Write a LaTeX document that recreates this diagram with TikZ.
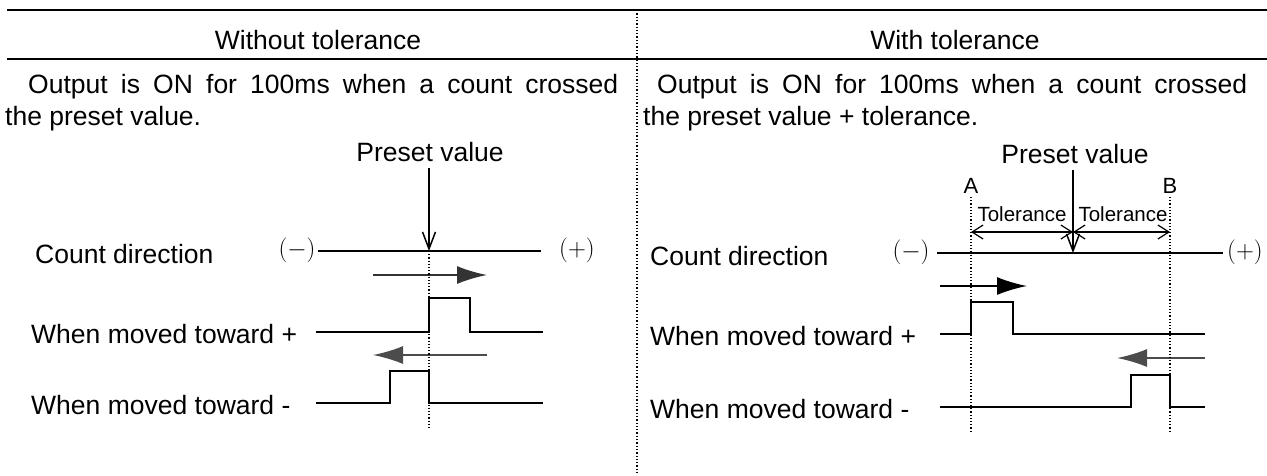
\documentclass[tikz,border=0pt]{standalone}
\usepackage{fontspec}
\setmainfont{Liberation Sans}
\usetikzlibrary{arrows.meta}
\begin{document}
\begin{tikzpicture}[x=1pt,y=-1pt,
  txt/.style={inner sep=0pt,font=\fontsize{26.5}{31}\selectfont},
  sign/.style={inner sep=0pt,font=\fontsize{28}{32}\selectfont},
  small/.style={inner sep=0pt,font=\fontsize{20.5}{24}\selectfont},
  letter/.style={inner sep=0pt,font=\fontsize{22}{26}\selectfont},
  rule/.style={line width=2.4pt},
  divider/.style={line width=1.3pt,dotted},
  guide/.style={line width=1.2pt,dotted},
  axis/.style={line width=1.8pt},
  pulse/.style={line width=1.8pt},
  presetarrow/.style={line width=1.8pt,-{Straight Barb[length=17pt,width=13pt,line width=1.5pt]}},
  tolarrow/.style={line width=1.2pt,{Straight Barb[length=11pt,width=14pt]}-{Straight Barb[length=11pt,width=14pt]}},
  moveplus/.style={line width=1.8pt,-{Latex[length=30pt,width=18pt]},color=black!80},
  moveminus/.style={line width=1.8pt,-{Latex[length=30pt,width=18pt]},color=black!70}]
\useasboundingbox (0,0) rectangle (1267,475);

% table frame
\coordinate (tl) at (7,10);   \coordinate (tr) at (1267,10);
\coordinate (hl) at (7,59);   \coordinate (hr) at (1267,59);
\coordinate (dtop) at (637,10); \coordinate (dbot) at (637,475);
\draw[rule] (tl) -- (tr);
\draw[rule] (hl) -- (hr);
\draw[divider] (dtop) -- (dbot);

% column headings
\node[txt] (hwo) at (318,40) {Without tolerance};
\node[txt] (hwi) at (955,40) {With tolerance};

% descriptions
\node[txt,anchor=west] (dl1) at (28,87) {\makebox[590pt][s]{Output is ON for 100ms when a count crossed}};
\node[txt,anchor=west] (dl2) at (5,119) {the preset value.};
\node[txt,anchor=west] (dr1) at (657,87) {\makebox[590pt][s]{Output is ON for 100ms when a count crossed}};
\node[txt,anchor=west] (dr2) at (643,119) {the preset value + tolerance.};

% ---------- left: without tolerance ----------
\node[txt] (pvl) at (430,152) {Preset value};
\coordinate (pl) at (429,251);
\draw[presetarrow] (pvl.south -| pl) ++(0,6) coordinate (pls) -- (pl);

\node[txt,anchor=west] (cdl) at (35,254) {Count direction};
\node[sign] (mnl) at (297,250) {$(-)$};
\node[sign] (psl) at (577,250) {$(+)$};
\coordinate (axl1) at (318,251); \coordinate (axl2) at (541,251);
\draw[axis] (axl1) -- (axl2);

% outputs
\node[txt,anchor=west] (wpl) at (31,334) {When moved toward +};
\node[txt,anchor=west] (wml) at (31,405) {When moved toward -};

\coordinate (ral) at (373,275); \coordinate (rar) at (487,275);
\draw[moveplus] (ral) -- (rar);
\draw[pulse] (316,332) coordinate (p1s) -- (429,332) -- (429,298) -- (470,298) -- (470,332) -- (543,332) coordinate (p1e);

\coordinate (lar) at (487,355); \coordinate (lal) at (373,355);
\draw[moveminus] (lar) -- (lal);
\draw[pulse] (316,403) coordinate (p2s) -- (390,403) -- (390,371) -- (429,371) -- (429,403) -- (543,403) coordinate (p2e);

\coordinate (gle) at (429,428);
\draw[guide] (pl) -- (gle);

% ---------- right: with tolerance ----------
\node[txt] (pvr) at (1075,154) {Preset value};
\node[letter] (la) at (971,186) {A};
\node[letter] (lb) at (1170,186) {B};
\coordinate (pr) at (1073,253);
\draw[presetarrow] (pvr.south -| pr) ++(0,6) coordinate (prs) -- (pr);

\node[txt,anchor=west] (cdr) at (650,256) {Count direction};
\node[sign] (mnr) at (911,252) {$(-)$};
\node[sign] (psr) at (1245,252) {$(+)$};
\coordinate (axr1) at (937,253); \coordinate (axr2) at (1223,253);
\draw[axis] (axr1) -- (axr2);

% tolerance band
\coordinate (ta) at (971,232); \coordinate (tm) at (1073,232); \coordinate (tb) at (1170,232);
\draw[tolarrow] (ta) -- (tm);
\draw[tolarrow] (tm) -- (tb);
\node[small] (tol1) at (1022,214) {Tolerance};
\node[small] (tol2) at (1123,214) {Tolerance};

% outputs
\node[txt,anchor=west] (wpr) at (650,336) {When moved toward +};
\node[txt,anchor=west] (wmr) at (650,409) {When moved toward -};

\coordinate (rarl) at (940,286); \coordinate (rarr) at (1027,286);
\draw[moveplus,color=black] (rarl) -- (rarr);
\draw[pulse] (940,334) coordinate (q1s) -- (971,334) -- (971,302) -- (1013,302) -- (1013,334) -- (1205,334) coordinate (q1e);

\coordinate (larr) at (1205,358); \coordinate (larl) at (1117,358);
\draw[moveminus] (larr) -- (larl);
\draw[pulse] (940,407) coordinate (q2s) -- (1131,407) -- (1131,375) -- (1170,375) -- (1170,407) -- (1205,407) coordinate (q2e);

% guides through A and B
\coordinate (gat) at (971,197); \coordinate (gab) at (971,431);
\coordinate (gbt) at (1170,197); \coordinate (gbb) at (1170,431);
\draw[guide] (gat) -- (gab);
\draw[guide] (gbt) -- (gbb);
\end{tikzpicture}
\end{document}
